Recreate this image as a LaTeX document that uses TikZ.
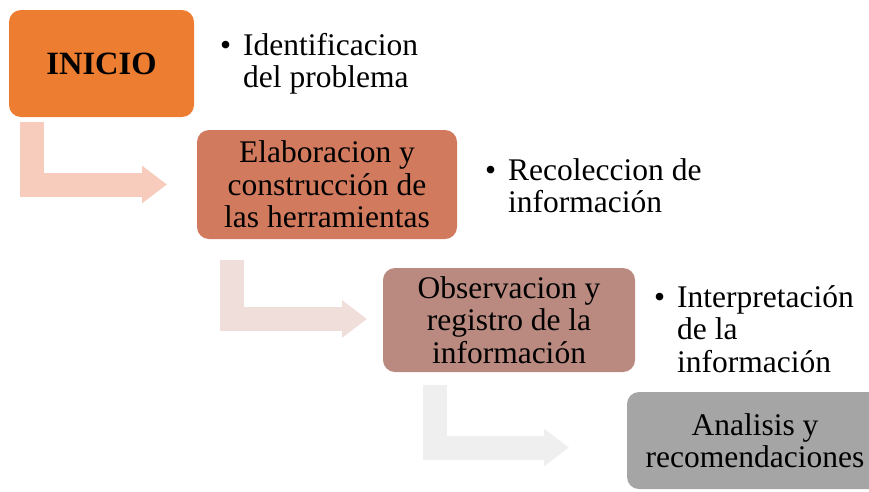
\documentclass[tikz,border=0pt]{standalone}
\usepackage{fontspec}
\setmainfont{Liberation Serif}
\usetikzlibrary{arrows.meta}
\definecolor{cOrange}{RGB}{237,125,49}
\definecolor{cBox2}{RGB}{210,122,94}
\definecolor{cBox3}{RGB}{186,138,128}
\definecolor{cBox4}{RGB}{165,165,165}
\definecolor{cArr1}{RGB}{247,204,189}
\definecolor{cArr2}{RGB}{240,222,219}
\definecolor{cArr3}{RGB}{239,239,239}
\newcommand{\bigfont}{\fontsize{31.5}{32.5}\selectfont}
\newcommand{\bulletitem}[1]{\parbox[t]{8cm}{\bigfont\raggedright\hangindent=23pt\hangafter=1\noindent\makebox[23pt][l]{\textbullet}#1}}
\tikzset{
  stagebox/.style={rounded corners=12pt, inner sep=0pt, align=center, font=\bigfont, text=black},
  bendarrow/.style={line width=24pt, line join=miter, -{Triangle[width=36pt,length=25pt]}},
  bullettext/.style={anchor=base west, inner sep=0pt}
}
\begin{document}
\begin{tikzpicture}[x=1pt,y=-1pt]
\useasboundingbox (0,0) rectangle (869,491);
\clip (0,0) rectangle (869,491);
% arrows
\coordinate (a1s) at (32,122);
\coordinate (a1c) at (32,184.5);
\coordinate (a1e) at (167,184.5);
\coordinate (a2s) at (231.5,260);
\coordinate (a2c) at (231.5,319);
\coordinate (a2e) at (367,319);
\coordinate (a3s) at (434.5,385);
\coordinate (a3c) at (434.5,447.5);
\coordinate (a3e) at (569,447.5);
\draw[bendarrow, draw=cArr1] (a1s) -- (a1c) -- (a1e);
\draw[bendarrow, draw=cArr2] (a2s) -- (a2c) -- (a2e);
\draw[bendarrow, draw=cArr3] (a3s) -- (a3c) -- (a3e);
% boxes
\node[stagebox, fill=cOrange, minimum width=185pt, minimum height=107pt] (b1) at (101.5,63.5) {\fontsize{32.5}{34}\selectfont\textbf{INICIO}};
\node[stagebox, fill=cBox2, minimum width=260pt, minimum height=109pt] (b2) at (327,184.5) {Elaboracion y\\construcción de\\las herramientas};
\node[stagebox, fill=cBox3, minimum width=252pt, minimum height=104pt] (b3) at (509,320) {Observacion y\\registro de la\\información};
\node[stagebox, fill=cBox4, minimum width=256pt, minimum height=97pt] (b4) at (755,440.5) {Analisis y\\recomendaciones};
% bullet texts
\node[bullettext] (t1) at (220,55) {\bulletitem{Identificacion\newline del problema}};
\node[bullettext] (t2) at (485,180) {\bulletitem{Recoleccion de\newline información}};
\node[bullettext] (t3) at (654,307) {\bulletitem{Interpretación\newline de la\newline información}};
\end{tikzpicture}
\end{document}
